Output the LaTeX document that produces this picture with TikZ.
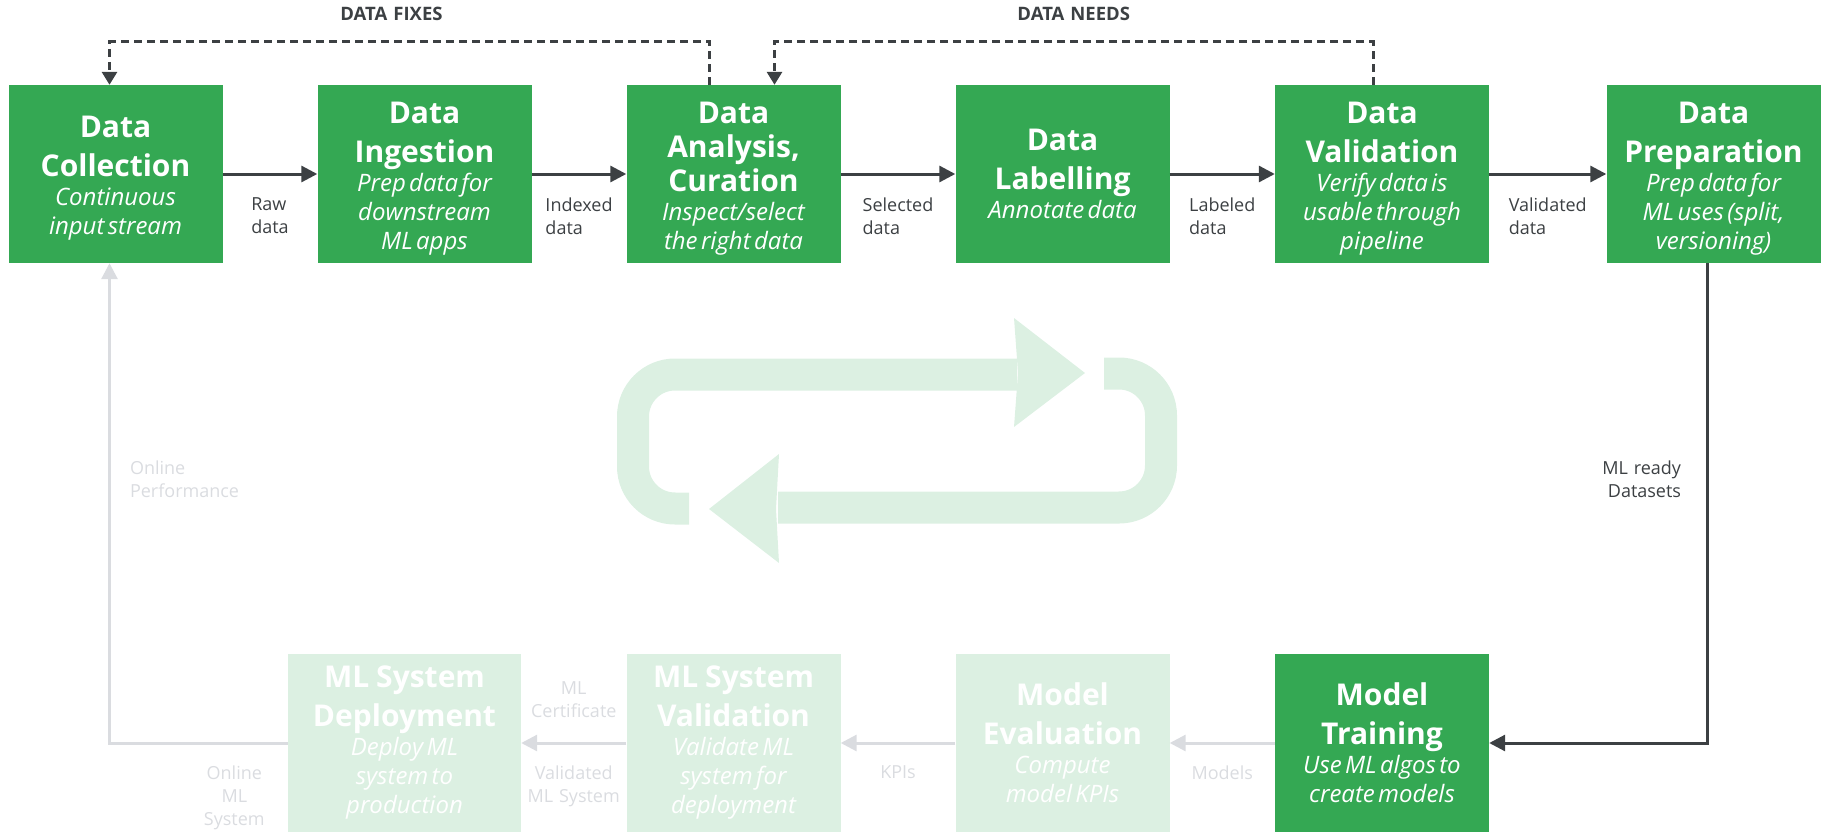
\documentclass[tikz,border=0pt]{standalone}
\usepackage{fontspec}
\setmainfont{Open Sans}[WordSpace=1.25]
\usetikzlibrary{arrows.meta}
\definecolor{stagegreen}{HTML}{34A853}
\definecolor{palegreen}{HTML}{DCF0E2}
\definecolor{darkline}{HTML}{3C4043}
\definecolor{fadeline}{HTML}{DADCE0}
\newcommand{\stagetitle}[2][39]{{\fontsize{30}{#1}\selectfont\bfseries #2\par}}
\newcommand{\stagenote}[1]{{\fontsize{24}{29}\selectfont\itshape #1\par}}

\begin{document}
\begin{tikzpicture}[x=1pt,y=-1pt,
        stage/.style={fill=stagegreen,text=white,minimum width=214pt,minimum height=178pt,text width=210pt,align=center,inner sep=0pt},
        topstage/.style={stage,execute at begin node={\rule{0pt}{30pt}}},
        faded/.style={stage,fill=palegreen},
        lbl/.style={font=\fontsize{18}{23}\selectfont,text=darkline,inner sep=0pt,align=left},
        fadelbl/.style={lbl,text=fadeline,align=center},
        dlbl/.style={font=\fontsize{18.5}{22}\selectfont\bfseries,text=darkline,inner sep=0pt},
        flow/.style={color=darkline,line width=3pt,-{Triangle[length=16pt,width=16pt]}},
        fadeflow/.style={color=fadeline,line width=3pt,-{Triangle[length=16pt,width=16pt]}},
        fix/.style={color=darkline,line width=3pt,dash pattern=on 8pt off 5pt,-{Triangle[length=13pt,width=15pt]}},
        cyclebar/.style={draw=palegreen,line width=32pt,rounded corners=42pt}]
        \useasboundingbox (0,0) rectangle (1825,832);
        % cycle icon
        \draw[cyclebar] (689,508.5) -- (633,508.5) -- (633,374.5) -- (1017,374.5);
        \fill[palegreen] (1014,318) -- (1085,373) -- (1014,427) -- (1018,373) -- cycle;
        \draw[cyclebar] (1104,373.5) -- (1161,373.5) -- (1161,507.5) -- (778,507.5);
        \fill[palegreen] (779,454) -- (709,509) -- (779,563) -- (776,509) -- cycle;
        % top row
        \node[topstage] (coll) at (115.5,174) {\stagetitle{Data\\Collection}\stagenote{Continuous\\input stream}};
        \node[topstage] (ingest) at (424.5,174) {\stagetitle{Data\\Ingestion}\stagenote{Prep data for\\downstream\\ML apps}};
        \node[topstage] (analysis) at (733.5,174) {\stagetitle[34]{Data\\Analysis,\\Curation}\stagenote{Inspect/select\\the right data}};
        \node[stage] (label) at (1062.5,174) {\stagetitle{Data\\Labelling}\stagenote{Annotate data}};
        \node[topstage] (valid) at (1382,174) {\stagetitle{Data\\Validation}\stagenote{Verify data is\\usable through\\pipeline}};
        \node[topstage] (prep) at (1713.5,174) {\stagetitle{Data\\Preparation}\stagenote{Prep data for\\ML uses (split,\\versioning)}};
        % bottom row
        \node[stage] (train) at (1382,743) {\stagetitle{Model\\Training}\stagenote{Use ML algos to\\create models}};
        \node[faded] (eval) at (1062.5,743) {\stagetitle{Model\\Evaluation}\stagenote{Compute\\model KPIs}};
        \node[faded] (sysval) at (733.5,743) {\stagetitle{ML\hspace{0.12em} System\\Validation}\stagenote{Validate ML\\system for\\deployment}};
        \node[faded,minimum width=233pt,text width=229pt] (deploy) at (404.5,743) {\stagetitle{ML\hspace{0.12em} System\\Deployment}\stagenote{Deploy ML\\system to\\production}};
        \path[flow] (coll) edge node[lbl,below=22pt]{Raw\\data} (ingest);
        \path[flow] (ingest) edge node[lbl,below=22pt]{Indexed\\data} (analysis);
        \path[flow] (analysis) edge node[lbl,below=22pt]{Selected\\data} (label);
        \path[flow] (label) edge node[lbl,below=22pt]{Labeled\\data} (valid);
        \path[flow] (valid) edge node[lbl,below=22pt]{Validated\\data} (prep);
        \draw[flow] ([xshift=-6pt]prep.south) |- node[pos=0.225,lbl,left=25pt,align=right]{ML ready\\Datasets} (train);
        \path[fadeflow] (train) edge node[fadelbl,below=21pt]{Models} (eval);
        \path[fadeflow] (eval) edge node[fadelbl,below=21pt]{KPIs} (sysval);
        \path[fadeflow] (sysval) edge node[fadelbl,above=24pt]{ML\\Certificate} node[fadelbl,below=21pt]{Validated\\ML System} (deploy);
        \draw[fadeflow] (deploy) -| node[pos=0.15,fadelbl,below=21pt]{Online\\ML\\System} node[pos=0.775,fadelbl,right=19pt,align=left]{Online\\Performance} ([xshift=-6pt]coll.south);
        % feedback loops
        \draw[fix] ([xshift=-24pt]analysis.north) -- ++(0,-43) -| node[pos=0.265,dlbl,above=20pt]{DATA FIXES} ([xshift=-6pt]coll.north);
        \draw[fix] ([xshift=-9pt]valid.north) -- ++(0,-43) -| node[pos=0.25,dlbl,above=20pt]{DATA NEEDS} ([xshift=41pt]analysis.north);
    \end{tikzpicture}
\end{document}
